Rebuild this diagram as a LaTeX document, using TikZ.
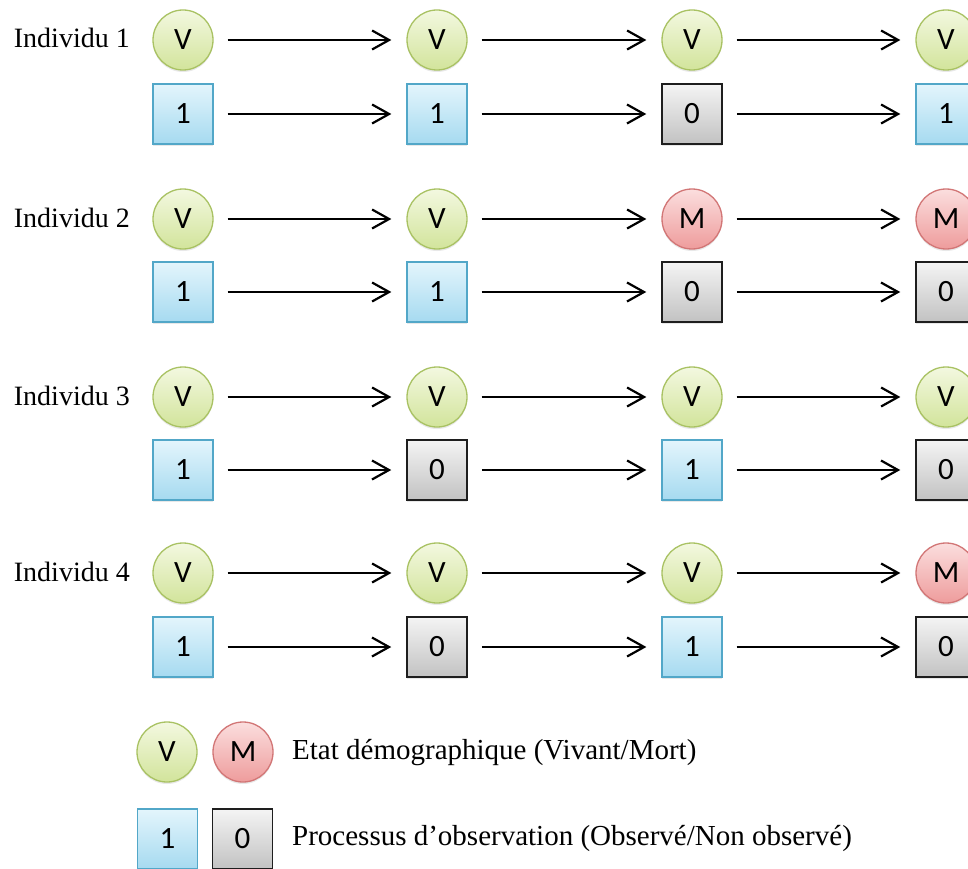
\documentclass[tikz,border=0pt]{standalone}
\usepackage{fontspec}
\setmainfont{Liberation Serif}
\newfontfamily\nodefnt{Carlito}
\usetikzlibrary{arrows.meta,shadows}
\definecolor{vtop}{HTML}{F3F8E0}
\definecolor{vbot}{HTML}{D2E49B}
\definecolor{vborder}{HTML}{A9C263}
\definecolor{mtop}{HTML}{FBDEDE}
\definecolor{mbot}{HTML}{EE9C9C}
\definecolor{mborder}{HTML}{D27676}
\definecolor{otop}{HTML}{E3F5FC}
\definecolor{obot}{HTML}{A6DAF0}
\definecolor{oborder}{HTML}{52A7C8}
\definecolor{ntop}{HTML}{F4F4F4}
\definecolor{nbot}{HTML}{C2C2C2}
\definecolor{nborder}{HTML}{1E1E1E}
\begin{document}
\begin{tikzpicture}[x=1pt,y=-1pt,
  base/.style={inner sep=0pt,font=\nodefnt\fontsize{31}{34}\selectfont,
    drop shadow={shadow xshift=0pt,shadow yshift=-2pt,opacity=0.18}},
  stV/.style={base,circle,minimum size=60pt,draw=vborder,line width=1.3pt,top color=vtop,bottom color=vbot},
  stM/.style={base,circle,minimum size=60pt,draw=mborder,line width=1.3pt,top color=mtop,bottom color=mbot},
  ob1/.style={base,rectangle,minimum width=60pt,minimum height=60pt,draw=oborder,line width=1.3pt,top color=otop,bottom color=obot},
  ob0/.style={base,rectangle,minimum width=60pt,minimum height=60pt,draw=nborder,line width=1.5pt,top color=ntop,bottom color=nbot},
  arr/.style={line width=2.2pt,-{Straight Barb[length=17pt,width=19pt]},shorten <=14pt,shorten >=15pt},
  lab/.style={inner sep=0pt,font=\fontsize{28}{32}\selectfont},
  leg/.style={inner sep=0pt,font=\fontsize{29}{33}\selectfont}
]
\useasboundingbox[fill=white] (0,0) rectangle (968,869);
\foreach \r/\cy/\sy/\sa/\sb/\sc/\sd/\oa/\ob/\oc/\od in
  {1/40/114/V/V/V/V/1/1/0/1,
   2/219/292/V/V/M/M/1/1/0/0,
   3/397/470/V/V/V/V/1/0/1/0,
   4/573/647/V/V/V/M/1/0/1/0}{
  \node[lab,anchor=base east] (l\r) at (130,\cy+8) {Individu \r};
  \node[st\sa] (c\r a) at (183,\cy) {\sa};
  \node[st\sb] (c\r b) at (437,\cy) {\sb};
  \node[st\sc] (c\r c) at (692,\cy) {\sc};
  \node[st\sd] (c\r d) at (946,\cy) {\sd};
  \node[ob\oa] (s\r a) at (183,\sy) {\oa};
  \node[ob\ob] (s\r b) at (437,\sy) {\ob};
  \node[ob\oc] (s\r c) at (692,\sy) {\oc};
  \node[ob\od] (s\r d) at (946,\sy) {\od};
  \draw[arr] (c\r a) -- (c\r b);
  \draw[arr] (c\r b) -- (c\r c);
  \draw[arr] (c\r c) -- (c\r d);
  \draw[arr] (s\r a) -- (s\r b);
  \draw[arr] (s\r b) -- (s\r c);
  \draw[arr] (s\r c) -- (s\r d);
}
% legend
\node[stV] (lv) at (167,752) {V};
\node[stM] (lm) at (243,752) {M};
\node[ob1] (l1) at (167.5,839) {1};
\node[ob0] (l0) at (242.5,839) {0};
\node[leg,anchor=base west] (tstate) at (292,759) {Etat démographique (Vivant/Mort)};
\node[leg,anchor=base west] (tobs) at (292,845) {Processus d’observation (Observé/Non observé)};
\end{tikzpicture}
\end{document}
